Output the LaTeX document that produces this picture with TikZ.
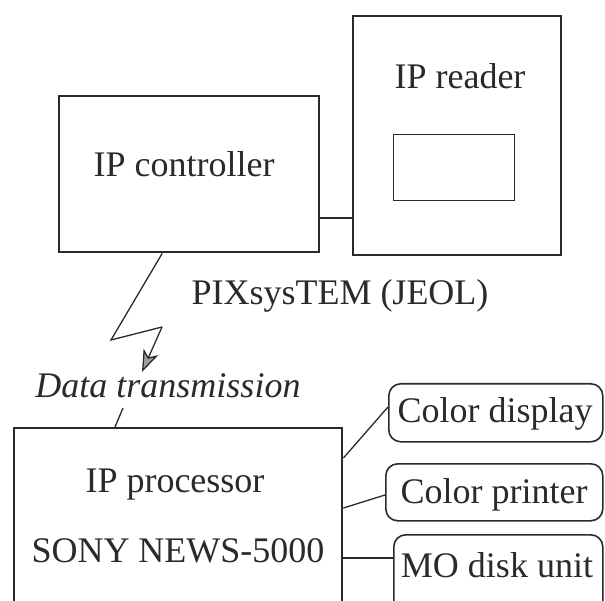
\documentclass[tikz,border=0pt]{standalone}
\usepackage{fontspec}
\setmainfont{Liberation Serif}
\usetikzlibrary{arrows.meta,calc}
\definecolor{ink}{HTML}{2A2A2A}
\begin{document}
\begin{tikzpicture}[x=1pt,y=-1pt,
  bigbox/.style={draw=ink,line width=2.4pt,rectangle,inner sep=0pt,anchor=north west},
  thinbox/.style={draw=ink,line width=1pt,rectangle,inner sep=0pt,anchor=north west},
  devbox/.style={draw=ink,line width=1.6pt,rectangle,rounded corners=12pt,inner sep=0pt,anchor=north west},
  lbl/.style={font=\fontsize{36}{40}\selectfont,inner sep=0pt,anchor=base,text=ink},
  ilbl/.style={font=\fontsize{36}{40}\selectfont\itshape,inner sep=0pt,anchor=base,text=ink},
  wire/.style={draw=ink,line width=1.3pt}]
\useasboundingbox (0,0) rectangle (605,601);
\clip (0,0) rectangle (605,601);
\fill[white] (0,0) rectangle (605,601);
% boxes
\node[bigbox,minimum width=260pt,minimum height=156pt] (ctrl) at (58,95) {};
\node[bigbox,minimum width=208pt,minimum height=239pt] (reader) at (352,15) {};
\node[thinbox,minimum width=121pt,minimum height=66pt] (win) at (393,134) {};
\node[bigbox,minimum width=328pt,minimum height=230pt] (proc) at (13,427) {};
\node[devbox,minimum width=214pt,minimum height=58pt] (disp) at (388,383) {};
\node[devbox,minimum width=217pt,minimum height=57pt] (prn) at (385,463) {};
\node[devbox,minimum width=209pt,minimum height=100pt] (mo) at (393,534) {};
% texts
\node[lbl] (tctrl) at (184,177) {IP controller};
\node[lbl] (treader) at (460,89) {IP reader};
\node[lbl] (tpix) at (340,305) {PIXsysTEM (JEOL)};
\node[ilbl] (tdata) at (168,397) {Data transmission};
\node[lbl] (tproc) at (175,492) {IP processor};
\node[lbl] (tsony) at (178,562) {SONY NEWS-5000};
\node[lbl] (tdisp) at (495,422) {Color display};
\node[lbl] (tprn) at (494,503) {Color printer};
\node[lbl] (tmo) at (497,577) {MO disk unit};
% connectors
\draw[wire] (ctrl.south east |- 0,218) -- (reader.west |- 0,218);
\coordinate (z1) at (111,340);
\coordinate (z2) at (162,327);
\coordinate (tip) at (142,372);
\draw[wire,line join=miter] ([xshift=-27pt]ctrl.south) -- (z1) -- (z2);
\draw[wire,-{Stealth[length=22pt,width=16pt,inset=6pt,fill=gray!75]}] (z2) -- (tip);
\coordinate (d1) at (123,408);
\draw[wire] (d1) -- ([xshift=102pt]proc.north west);
\draw[wire] (proc.north east |- 0,458) -- (disp.south west |- 0,407);
\draw[wire] (proc.north east |- 0,508) -- (prn.west |- 0,495);
\draw[wire] (proc.north east |- 0,558) -- (mo.west |- 0,558);
\end{tikzpicture}
\end{document}
